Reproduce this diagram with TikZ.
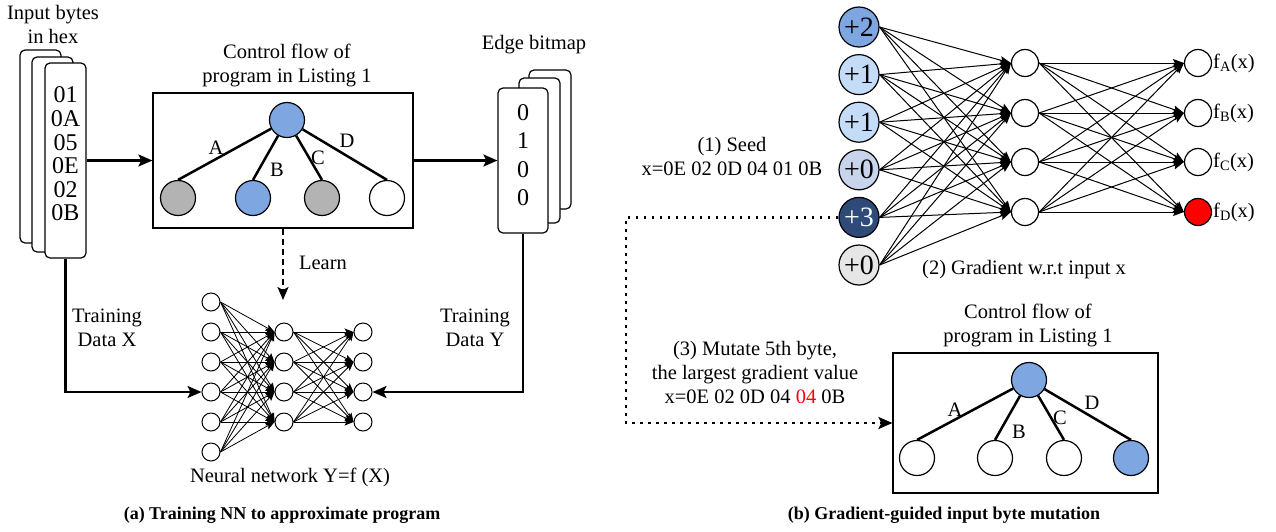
\documentclass[tikz,border=0pt]{standalone}
\usepackage{fontspec}
\setmainfont{Liberation Serif}
\usetikzlibrary{arrows.meta,calc}
\definecolor{cfblue}{HTML}{7EA6E0}
\definecolor{cfgray}{HTML}{B3B3B3}
\definecolor{lblue}{HTML}{C4DCF8}
\definecolor{gblue}{HTML}{C7D4EB}
\definecolor{navy}{HTML}{2E4A78}
\definecolor{lgray}{HTML}{E6E6E6}
\begin{document}
\begin{tikzpicture}[x=1pt,y=-1pt,
  txt/.style={inner sep=0pt, align=center, font=\fontsize{20.5}{24}\selectfont},
  captxt/.style={inner sep=0pt, font=\fontsize{18}{21}\selectfont\bfseries},
  stackbox/.style={draw, rounded corners=5pt, fill=white, line width=1.2pt},
  cfbox/.style={draw, rectangle, line width=1.2pt, inner sep=0pt},
  treenode/.style={draw, circle, minimum size=35pt, inner sep=0pt, line width=1.2pt},
  treeedge/.style={line width=2.5pt},
  bigarrow/.style={line width=2.2pt, -{Stealth[length=14pt,width=12pt,inset=3pt]}},
  nnl/.style={draw, circle, minimum size=18pt, inner sep=0pt, line width=1pt, fill=white},
  nnedgeL/.style={line width=0.8pt, -{Stealth[length=9pt,width=7pt,inset=2pt]}},
  rin/.style={draw, circle, minimum size=40pt, inner sep=0pt, line width=1.2pt, font=\fontsize{28}{28}\selectfont},
  rnn/.style={draw, circle, minimum size=27pt, inner sep=0pt, line width=1.2pt},
  nnedgeR/.style={line width=1pt, -{Stealth[length=11pt,width=8pt,inset=2pt]}},
  dotline/.style={line width=2.5pt, dash pattern=on 2.5pt off 5.5pt},
]
\useasboundingbox (0,0) rectangle (1276,531);

% ---------------- (a) ----------------
\node[txt] (inlabel) at (53,24) {Input bytes\\in hex};
\draw[stackbox] (20,50) rectangle (61,243);
\draw[stackbox] (32,57) rectangle (73,252);
\node[stackbox, minimum width=41pt, minimum height=195pt, inner sep=0pt] (inbox) at (65.5,160.5) {};
\node[inner sep=0pt, align=center, font=\fontsize{24}{23.6}\selectfont] (hex) at (65.5,154) {01\\0A\\05\\0E\\02\\0B};

\node[txt] (cf1title) at (287,65) {Control flow of\\program in Listing 1};
\node[cfbox, minimum width=260pt, minimum height=135pt] (cf1) at (283,160.5) {};
\node[treenode, fill=cfblue] (r1) at (287,120) {};
\node[treenode, fill=cfgray] (a1) at (178,198) {};
\node[treenode, fill=cfblue] (b1) at (253,198) {};
\node[treenode, fill=cfgray] (c1) at (322,198) {};
\node[treenode, fill=white] (d1) at (387,198) {};
\draw[treeedge] (r1) -- (a1.north);
\draw[treeedge] (r1) -- (b1.north);
\draw[treeedge] (r1) -- (c1.north);
\draw[treeedge] (r1) -- (d1.north);
\node[txt] (la1) at (216,148) {A};
\node[txt] (lb1) at (277,170) {B};
\node[txt] (lc1) at (318,158) {C};
\node[txt] (ld1) at (347,141) {D};

\node[txt] (eblabel) at (534,45) {Edge bitmap};
\draw[stackbox] (529,70) rectangle (571,209);
\draw[stackbox] (519,78) rectangle (560,223);
\node[stackbox, minimum width=50pt, minimum height=145pt, inner sep=0pt] (eb) at (523,160.5) {};
\node[inner sep=0pt, align=center, font=\fontsize{24}{28.3}\selectfont] (ebt) at (523,155) {0\\1\\0\\0};

\draw[bigarrow] (inbox.east |- cf1.west) -- (cf1.west);
\draw[bigarrow] (cf1.east) -- (eb.west);

% left neural network
\foreach \i/\y in {1/302,2/332,3/362,4/392,5/422,6/452} \node[nnl] (li\i) at (211,\y) {};
\foreach \j/\y in {1/332,2/362,3/392,4/422} \node[nnl] (lh\j) at (284,\y) {};
\foreach \j/\y in {1/332,2/362,3/392,4/422} \node[nnl] (lo\j) at (363,\y) {};
\foreach \i in {1,...,6} \foreach \j in {1,...,4} \draw[nnedgeL] (li\i.east) -- (lh\j.west);
\foreach \i in {1,...,4} \foreach \j in {1,...,4} \draw[nnedgeL] (lh\i.east) -- (lo\j.west);

\coordinate (learnend) at (283,300);
\draw[line width=2.2pt, dash pattern=on 6pt off 4pt, -{Stealth[length=13pt,width=11pt,inset=3pt]}] (cf1.south) -- (learnend);
\node[txt] (learn) at (323,263) {Learn};

\draw[bigarrow] (inbox.south) |- (li4.west);
\draw[bigarrow] (eb.south) |- (lo3.east);
\node[txt] (tdx) at (107,328) {Training\\Data X};
\node[txt] (tdy) at (475,328) {Training\\Data Y};
\node[txt] (nnlabel) at (290,477) {Neural network Y=f (X)};
\node[captxt] (capa) at (282,515) {(a) Training NN to approximate program};

% ---------------- (b) ----------------
\node[rin, fill=cfblue] (ri1) at (859,27) {+2};
\node[rin, fill=lblue] (ri2) at (859,74.6) {+1};
\node[rin, fill=lblue] (ri3) at (859,122.2) {+1};
\node[rin, fill=gblue] (ri4) at (859,169.8) {+0};
\node[rin, fill=navy, text=white] (ri5) at (859,217.4) {+3};
\node[rin, fill=lgray] (ri6) at (859,265) {+0};
\foreach \j/\y in {1/63,2/113,3/162,4/212} \node[rnn] (rh\j) at (1025,\y) {};
\node[rnn] (ro1) at (1198,63) {};
\node[rnn] (ro2) at (1198,113) {};
\node[rnn] (ro3) at (1198,162) {};
\node[rnn, fill=red] (ro4) at (1198,212) {};
\foreach \i in {1,...,6} \foreach \j in {1,...,4} \draw[nnedgeR] (ri\i.east) -- (rh\j.west);
\foreach \i in {1,...,4} \foreach \j in {1,...,4} \draw[nnedgeR] (rh\i.east) -- (ro\j.west);
\node[txt, anchor=west] (fa) at (1213,63) {f\textsubscript{A}(x)};
\node[txt, anchor=west] (fb) at (1213,113) {f\textsubscript{B}(x)};
\node[txt, anchor=west] (fc) at (1213,162) {f\textsubscript{C}(x)};
\node[txt, anchor=west] (fd) at (1213,212) {f\textsubscript{D}(x)};
\node[txt] (grad) at (1024,270) {(2) Gradient w.r.t input x};
\node[txt] (seed) at (732,156) {(1) Seed\\x=0E 02 0D 04 01 0B};

\node[txt] (cf2title) at (1028,325) {Control flow of\\program in Listing 1};
\node[cfbox, minimum width=265pt, minimum height=140pt] (cf2) at (1025.5,423) {};
\node[treenode, fill=cfblue] (r2) at (1029,380) {};
\node[treenode, fill=white] (a2) at (917,458) {};
\node[treenode, fill=white] (b2) at (995,458) {};
\node[treenode, fill=white] (c2) at (1064,458) {};
\node[treenode, fill=cfblue] (d2) at (1131,458) {};
\draw[treeedge] (r2) -- (a2.north);
\draw[treeedge] (r2) -- (b2.north);
\draw[treeedge] (r2) -- (c2.north);
\draw[treeedge] (r2) -- (d2.north);
\node[txt] (la2) at (955,410) {A};
\node[txt] (lb2) at (1019,432) {B};
\node[txt] (lc2) at (1060,418) {C};
\node[txt] (ld2) at (1092,403) {D};

\coordinate (dotcorner) at (626,217.4);
\draw[dotline] (ri5.west) -- (dotcorner) |- (cf2.west);
\draw[line width=2.5pt, -{Stealth[length=14pt,width=12pt,inset=3pt]}] ($(cf2.west)+(-4,0)$) -- (cf2.west);
\node[txt] (mut) at (755,372) {(3) Mutate 5th byte,\\the largest gradient value\\x=0E 02 0D 04 \textcolor{red}{04} 0B};
\node[captxt] (capb) at (944,515) {(b) Gradient-guided input byte mutation};
\end{tikzpicture}
\end{document}
